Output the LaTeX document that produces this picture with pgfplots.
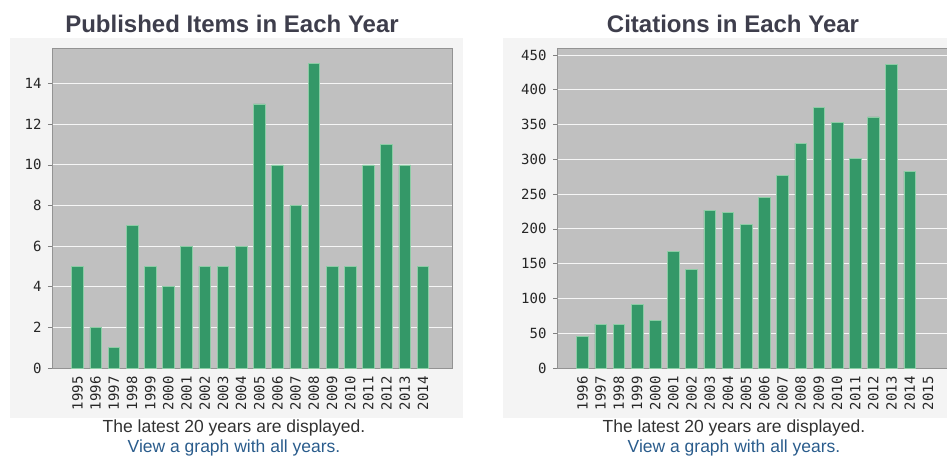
\documentclass[border=0pt]{standalone}
\usepackage{pgfplots}
\pgfplotsset{compat=1.18}
\usepackage{fontspec}
\setmainfont{Liberation Sans}
\newfontfamily\tickfont{DejaVu Sans Mono}

\definecolor{bargreen}{RGB}{52,152,104}
\definecolor{barhalo}{RGB}{140,205,165}
\definecolor{plotbg}{RGB}{192,192,192}
\definecolor{panelbg}{RGB}{244,244,244}
\definecolor{titlegray}{RGB}{62,62,76}
\definecolor{textgray}{RGB}{50,50,50}
\definecolor{linkblue}{RGB}{42,92,140}

\pgfplotsset{
  wos/.style={
    scale only axis, width=400pt, height=320pt,
    axis background/.style={fill=plotbg},
    axis line style={draw=gray!70!plotbg},
    xmin=-1.4, xmax=20.6, ymin=0,
    xtick={0,...,19},
    /pgf/number format/assume math mode=true,
    tick label style={font=\tickfont\fontsize{14}{14}\selectfont, text=black!85},
    xticklabel style={rotate=90, anchor=east, xshift=-1pt},
    yticklabel style={xshift=-3pt},
    xtick style={draw=none},
    ytick pos=left, tick align=outside,
    major tick length=4pt,
    ytick style={draw=gray, line width=0.6pt},
    ymajorgrids, grid style={draw=white!85!plotbg, line width=0.8pt},
    bar width=0.64,
  }
}

\begin{document}
\begin{tikzpicture}
\useasboundingbox (0,0) rectangle (947pt,-464pt);
\clip (0,0) rectangle (947pt,-464pt);

% panels
\fill[panelbg] (10pt,-38pt) rectangle (463pt,-418pt);
\fill[panelbg] (503pt,-38pt) rectangle (960pt,-418pt);

% titles
\node[anchor=base, font=\bfseries\fontsize{24}{24}\selectfont, text=titlegray]
  at (232pt,-32pt) {Published Items in Each Year};
\node[anchor=base, font=\bfseries\fontsize{24}{24}\selectfont, text=titlegray]
  at (733pt,-32pt) {Citations in Each Year};

% left: published items
\begin{axis}[wos, at={(52pt,-48pt)}, anchor=north west,
  ymax=15.75, ytick={0,2,...,14},
  xticklabels={1995,1996,1997,1998,1999,2000,2001,2002,2003,2004,2005,2006,2007,2008,2009,2010,2011,2012,2013,2014}]
\addplot[ybar, fill=bargreen, draw=barhalo, line width=0.6pt] coordinates {
  (0,5) (1,2) (2,1) (3,7) (4,5) (5,4) (6,6) (7,5) (8,5) (9,6)
  (10,13) (11,10) (12,8) (13,15) (14,5) (15,5) (16,10) (17,11) (18,10) (19,5)
};
\end{axis}

% right: citations
\begin{axis}[wos, at={(557pt,-48pt)}, anchor=north west,
  ymax=460, ytick={0,50,...,450},
  xticklabels={1996,1997,1998,1999,2000,2001,2002,2003,2004,2005,2006,2007,2008,2009,2010,2011,2012,2013,2014,2015}]
\addplot[ybar, fill=bargreen, draw=barhalo, line width=0.6pt] coordinates {
  (0,45) (1,63) (2,63) (3,92) (4,69) (5,168) (6,142) (7,227) (8,224) (9,207)
  (10,245) (11,277) (12,323) (13,375) (14,353) (15,301) (16,361) (17,436) (18,283)
};
\end{axis}

% footers
\node[anchor=base, font=\fontsize{17.5}{17.5}\selectfont, text=textgray]
  at (234pt,-432pt) {The latest 20 years are displayed.};
\node[anchor=base, font=\fontsize{17.5}{17.5}\selectfont, text=linkblue]
  at (234pt,-452pt) {View a graph with all years.};
\node[anchor=base, font=\fontsize{17.5}{17.5}\selectfont, text=textgray]
  at (734pt,-432pt) {The latest 20 years are displayed.};
\node[anchor=base, font=\fontsize{17.5}{17.5}\selectfont, text=linkblue]
  at (734pt,-452pt) {View a graph with all years.};
\end{tikzpicture}
\end{document}
